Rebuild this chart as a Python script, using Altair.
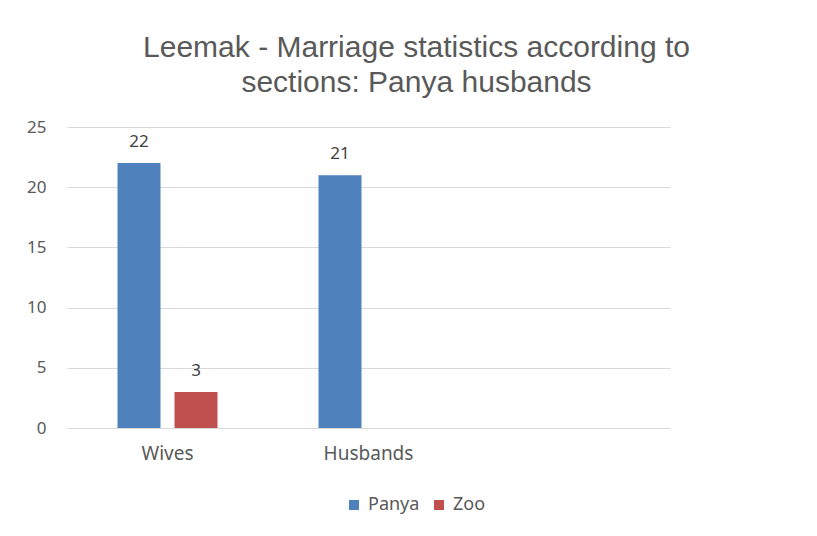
import altair as alt
import pandas as pd

categories = ["Wives", "Husbands", ""]
series = ["Panya", "Zoo"]
panya_values = [22, 21, None]
zoo_values = [3, None, None]
colors = ["#4f81bd", "#c0504d"]

rows = []
for cat, p, z in zip(categories, panya_values, zoo_values):
    if p is not None:
        rows.append({"category": cat, "series": "Panya", "value": p})
    if z is not None:
        rows.append({"category": cat, "series": "Zoo", "value": z})
df = pd.DataFrame(rows)

FONT = "Noto Sans"
GRAY = "#595959"

x = alt.X(
    "category:N",
    sort=categories,
    scale=alt.Scale(domain=categories, paddingInner=0, paddingOuter=0),
    axis=alt.Axis(title=None, labelAngle=0, ticks=False, domain=False,
                  labelPadding=16, labelFontSize=19, labelColor=GRAY,
                  labelFont=FONT, grid=False),
)
xoff = alt.XOffset(
    "series:N",
    scale=alt.Scale(domain=series, paddingInner=0.246, paddingOuter=0.886),
)
y = alt.Y(
    "value:Q",
    scale=alt.Scale(domain=[0, 25]),
    axis=alt.Axis(title=None, values=[0, 5, 10, 15, 20, 25], ticks=False,
                  domain=False, labelPadding=21, labelFontSize=17,
                  labelColor=GRAY, labelFont=FONT, gridColor="#d9d9d9"),
)

bars = alt.Chart(df).mark_bar().encode(
    x=x, xOffset=xoff, y=y,
    color=alt.Color(
        "series:N",
        scale=alt.Scale(domain=series, range=colors),
        legend=alt.Legend(title=None, orient="none", direction="horizontal",
                          legendX=278, legendY=369, symbolType="square",
                          symbolSize=100, labelFontSize=18, labelColor=GRAY,
                          labelFont=FONT, columnPadding=10, labelOffset=5),
    ),
)

labels = alt.Chart(df).mark_text(
    baseline="bottom", dy=-12, fontSize=17, color="#404040", font=FONT
).encode(x=x, xOffset=xoff, y=y, text=alt.Text("value:Q"))

chart = alt.layer(bars, labels).properties(
    width=603,
    height=301,
    background="white",
    autosize=alt.AutoSizeParams(type="none"),
    padding={"left": 67, "top": 127, "right": 147, "bottom": 108},
    title=alt.TitleParams(
        text=["Leemak - Marriage statistics according to",
              "sections: Panya husbands"],
        fontSize=30, fontWeight="normal", color=GRAY,
        font="Liberation Sans", anchor="middle", dx=48, offset=20,
        lineHeight=35,
    ),
).configure_view(stroke="transparent", strokeWidth=0)

chart.save("out.html", embed_options={"renderer": "svg", "actions": False})
